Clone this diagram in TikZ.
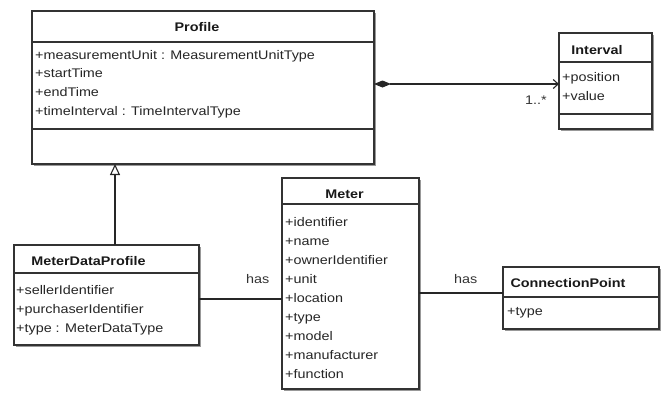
\documentclass[tikz,border=0pt]{standalone}
\usepackage{fontspec}
\setmainfont{Liberation Sans}[FakeStretch=1.15]
\usetikzlibrary{arrows.meta,shadows}
\begin{document}
\begin{tikzpicture}[x=1pt,y=-1pt,
  classbox/.style={draw=black!80, line width=1.1pt, fill=white, anchor=north west,
    inner sep=0pt, outer sep=0pt,
    drop shadow={shadow xshift=2pt, shadow yshift=-2pt, fill=black!40, opacity=1}},
  sepline/.style={draw=black!80, line width=1.1pt},
  conn/.style={draw=black!85, line width=1.1pt},
  classtitle/.style={anchor=base, inner sep=0pt, text=black!90,
    font=\bfseries\fontsize{12.5}{14}\selectfont},
  attr/.style={anchor=base west, inner sep=0pt, text=black!85,
    font=\fontsize{12.5}{14}\selectfont},
  role/.style={anchor=base west, inner sep=0pt, text=black!80,
    font=\fontsize{12.5}{14}\selectfont}]

\useasboundingbox (0,0) rectangle (665,392);

% ---- Profile ----
\node[classbox, minimum width=342pt, minimum height=153pt] (profile) at (32,11) {};
\draw[sepline] (profile.west |- 0,42) -- (profile.east |- 0,42);
\draw[sepline] (profile.west |- 0,129) -- (profile.east |- 0,129);
\node[classtitle] (profile-t) at (197,31) {Profile};
\foreach \t [count=\i] in {{+measurementUnit : MeasurementUnitType},{+startTime},{+endTime},{+timeInterval : TimeIntervalType}}
  \node[attr] (profile-a\i) at (35,{59+18.9*(\i-1)}) {\t};

% ---- Interval ----
\node[classbox, minimum width=93pt, minimum height=96pt] (interval) at (559,33) {};
\draw[sepline] (interval.west |- 0,62) -- (interval.east |- 0,62);
\draw[sepline] (interval.west |- 0,114) -- (interval.east |- 0,114);
\node[classtitle] (interval-t) at (597,54) {Interval};
\foreach \t [count=\i] in {{+position},{+value}}
  \node[attr] (interval-a\i) at (562,{81.5+19*(\i-1)}) {\t};

% ---- MeterDataProfile ----
\node[classbox, minimum width=185pt, minimum height=100pt] (mdp) at (14,245) {};
\draw[sepline] (mdp.west |- 0,273) -- (mdp.east |- 0,273);
\node[classtitle] (mdp-t) at (88.5,265) {MeterDataProfile};
\foreach \t [count=\i] in {{+sellerIdentifier},{+purchaserIdentifier},{+type : MeterDataType}}
  \node[attr] (mdp-a\i) at (16,{294+19*(\i-1)}) {\t};

% ---- Meter ----
\node[classbox, minimum width=137pt, minimum height=211pt] (meter) at (282,178) {};
\draw[sepline] (meter.west |- 0,204) -- (meter.east |- 0,204);
\node[classtitle] (meter-t) at (344.5,198.3) {Meter};
\foreach \t [count=\i] in {{+identifier},{+name},{+ownerIdentifier},{+unit},{+location},{+type},{+model},{+manufacturer},{+function}}
  \node[attr] (meter-a\i) at (285,{226.5+19.05*(\i-1)}) {\t};

% ---- ConnectionPoint ----
\node[classbox, minimum width=156pt, minimum height=62pt] (cp) at (503,267) {};
\draw[sepline] (cp.west |- 0,297) -- (cp.east |- 0,297);
\node[classtitle] (cp-t) at (568,287.3) {ConnectionPoint};
\node[attr] (cp-a1) at (507,315.3) {+type};

% ---- Relations ----
% composition Profile -> Interval
\draw[conn, {Diamond[length=17pt,width=7pt]}-{Straight Barb[length=5pt,width=9pt,line width=1.1pt]}]
  (profile.east |- 0,84) -- (interval.west |- 0,84);
\node[role] (mult) at (525,104) {1..*};

% generalisation MeterDataProfile -> Profile
\draw[conn, -{Triangle[open,length=11pt,width=10pt,fill=white]}]
  (mdp.north -| 115,0) -- (profile.south -| 115,0);

% associations
\draw[conn] (mdp.east |- 0,299) -- (meter.west |- 0,299);
\node[role] (has1) at (246,283) {has};
\draw[conn] (meter.east |- 0,293) -- (cp.west |- 0,293);
\node[role] (has2) at (454,283) {has};
\end{tikzpicture}
\end{document}
